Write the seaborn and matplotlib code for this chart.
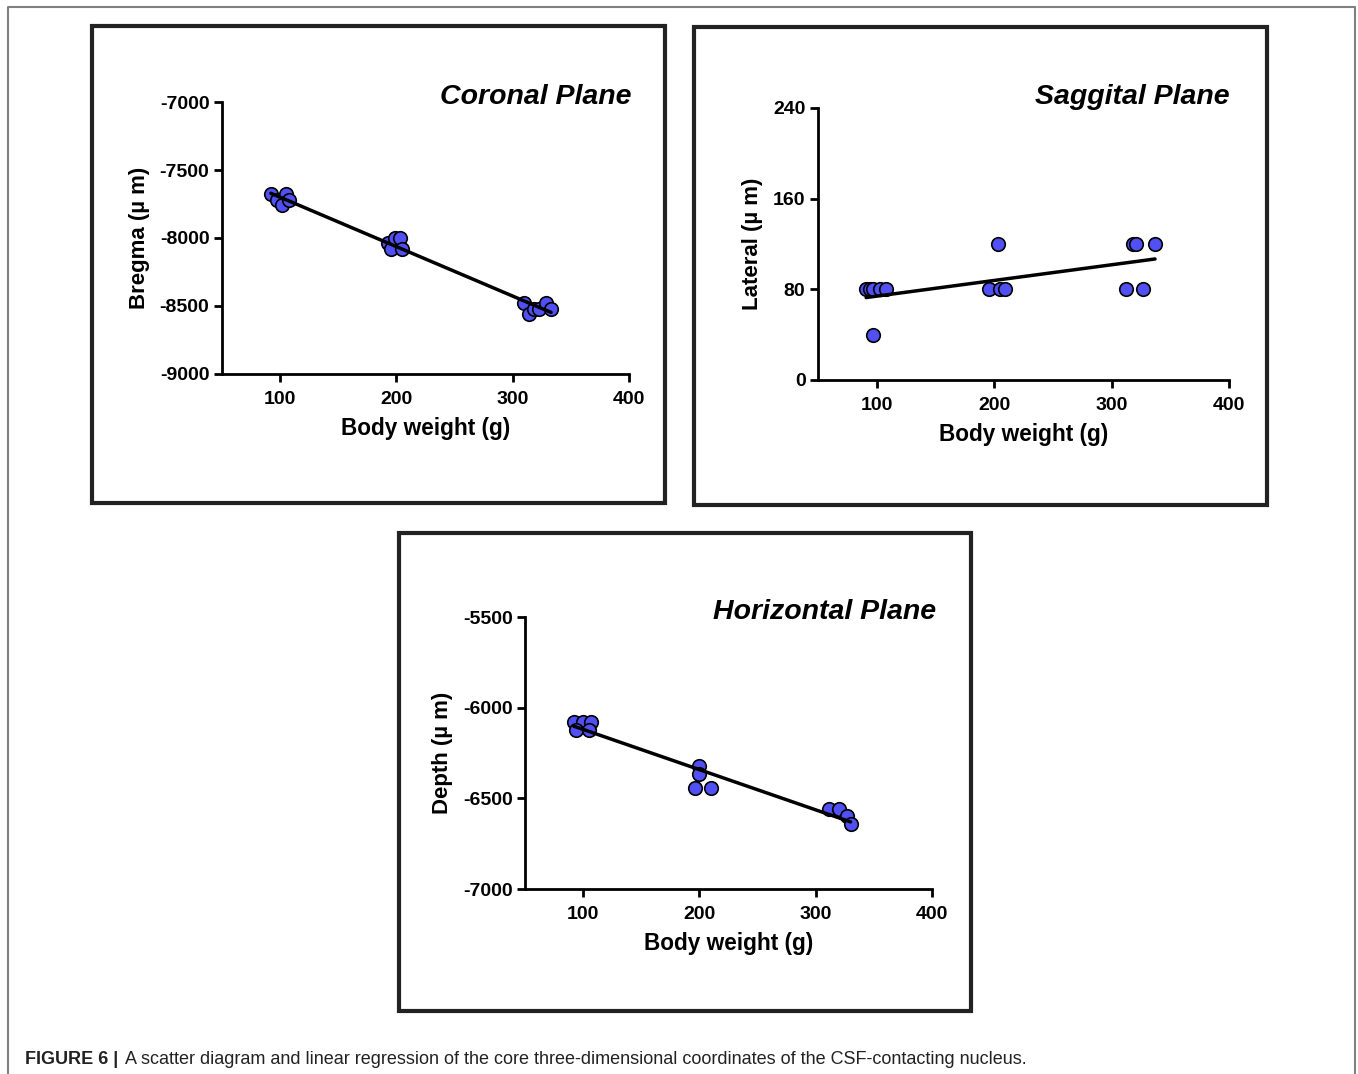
import matplotlib
matplotlib.use("Agg")
import matplotlib.pyplot as plt
from matplotlib.patches import Rectangle
from matplotlib.lines import Line2D
import seaborn as sns
import pandas as pd

# Data
cor_x = [92, 97, 102, 105, 108, 193, 195, 199, 203, 205, 310, 314, 318, 323, 329, 333]
cor_y = [-7680, -7720, -7760, -7680, -7720, -8040, -8080, -8000, -8000, -8080,
         -8480, -8560, -8520, -8520, -8480, -8520]

sag_x = [91, 94, 97, 103, 108, 97, 196, 203, 205, 209, 312, 318, 321, 327, 337]
sag_y = [80, 80, 80, 80, 80, 40, 80, 120, 80, 80, 80, 120, 120, 80, 120]

hor_x = [92, 100, 107, 94, 105, 200, 200, 196, 210, 311, 320, 327, 330]
hor_y = [-6080, -6080, -6080, -6125, -6125, -6320, -6365, -6445, -6445,
         -6560, -6560, -6600, -6640]

x_ticks = [100, 200, 300, 400]
cor_yticks = [-9000, -8500, -8000, -7500, -7000]
sag_yticks = [0, 80, 160, 240]
hor_yticks = [-7000, -6500, -6000, -5500]

titles = ["Coronal Plane", "Saggital Plane", "Horizontal Plane"]
ylabels = ["Bregma (\u00b5 m)", "Lateral (\u00b5 m)", "Depth (\u00b5 m)"]
xlabel = "Body weight (g)"
caption_bold = "FIGURE 6 |"
caption_rest = ("A scatter diagram and linear regression of the core three-dimensional "
                "coordinates of the CSF-contacting nucleus.")

sns.set_style("ticks")
plt.rcParams['font.family'] = ['Liberation Sans', 'DejaVu Sans']
plt.rcParams['font.weight'] = 'bold'
plt.rcParams['axes.unicode_minus'] = False
for key in ['text.color', 'axes.labelcolor', 'xtick.color', 'ytick.color']:
    plt.rcParams[key] = 'black'

W, H = 1358, 1074
fig = plt.figure(figsize=(W / 100, H / 100), dpi=100)


def px_box(x0, y0, x1, y1):
    # pixel box (top-left origin) -> figure fraction [l, b, w, h]
    return [x0 / W, 1 - y1 / H, (x1 - x0) / W, (y1 - y0) / H]


# outer thin frame
fig.add_artist(Line2D([8 / W, 8 / W, 1355 / W, 1355 / W], [0, 1 - 7 / H, 1 - 7 / H, 0],
                      transform=fig.transFigure, color='#808080', lw=1.5))

# panel boxes
for (x0, y0, x1, y1) in [(92, 26, 665, 503), (694, 27, 1267, 505), (399, 533, 971, 1011)]:
    fig.add_artist(Rectangle((x0 / W, 1 - y1 / H), (x1 - x0) / W, (y1 - y0) / H,
                             transform=fig.transFigure, fill=False,
                             edgecolor='#222222', lw=3))

panels = [
    (px_box(222, 102, 629, 374), cor_x, cor_y, (-9000, -7000), cor_yticks, (631, 97)),
    (px_box(818, 108, 1229, 380), sag_x, sag_y, (0, 240), sag_yticks, (1230, 97)),
    (px_box(525, 617, 932, 889), hor_x, hor_y, (-7000, -5500), hor_yticks, (936, 612)),
]

for i, (box, xs, ys, ylim, yticks, tpos) in enumerate(panels):
    ax = fig.add_axes(box)
    df = pd.DataFrame({"x": xs, "y": ys})
    sns.regplot(data=df, x="x", y="y", ax=ax, ci=None,
                scatter_kws=dict(s=95, color='#5050f5', edgecolor='black',
                                 linewidths=1.2, alpha=1, zorder=3),
                line_kws=dict(color='black', lw=2.5, zorder=4))
    ax.set_xlim(50, 400)
    ax.set_ylim(*ylim)
    ax.set_xticks(x_ticks)
    ax.set_yticks(yticks)
    sns.despine(ax=ax)
    for side in ['left', 'bottom']:
        ax.spines[side].set_linewidth(2)
        ax.spines[side].set_color('black')
    ax.tick_params(direction='out', length=6, width=2, labelsize=14, pad=3,
                   color='black')
    ax.tick_params(axis='x', pad=6)
    ax.set_xlabel(xlabel, fontsize=16.3, fontweight='bold', labelpad=7)
    ax.set_ylabel(ylabels[i], fontsize=16, fontweight='bold', labelpad=7)
    fig.text(tpos[0] / W, 1 - tpos[1] / H, titles[i], ha='right', va='center',
             fontsize=20.5, fontweight='bold', fontstyle='italic')

# caption
fig.text(25 / W, 1 - 1060 / H, caption_bold, ha='left', va='center',
         fontsize=13, fontweight='bold', color='#222222')
fig.text(125 / W, 1 - 1060 / H, caption_rest, ha='left', va='center',
         fontsize=13, fontweight='normal', color='#222222')

fig.savefig("out.png", dpi=100)
